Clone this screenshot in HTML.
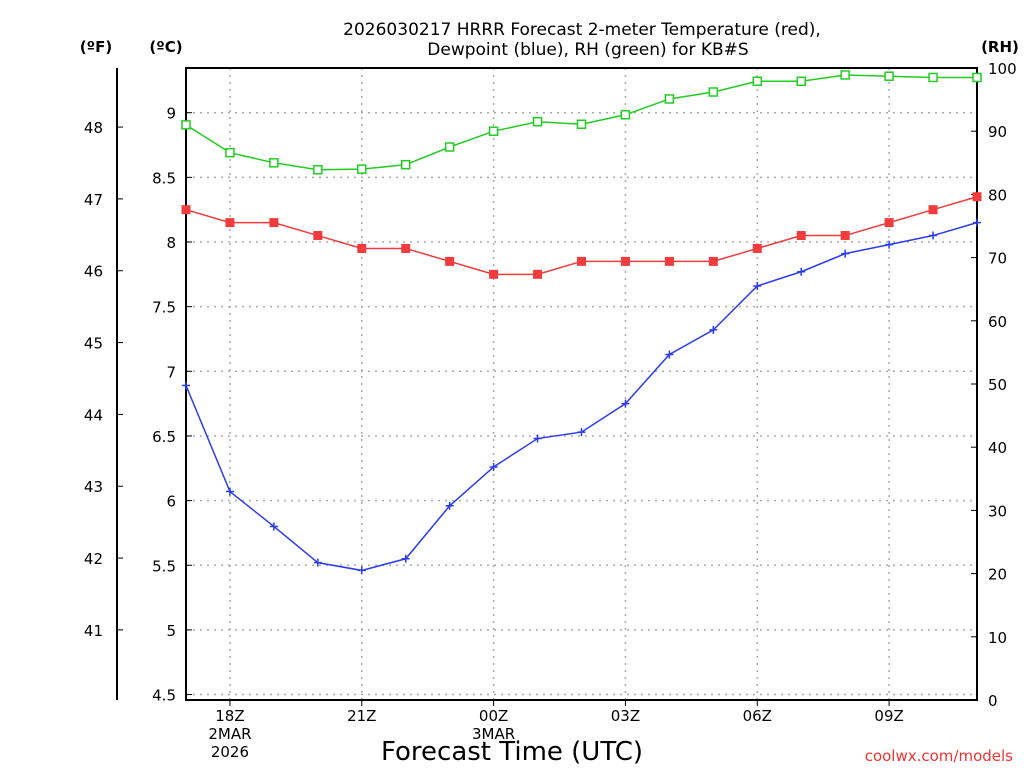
<!DOCTYPE html>
<html><head><meta charset="utf-8"><style>
body{margin:0;background:#fff;}
svg text{font-family:"DejaVu Sans","Liberation Sans",sans-serif;}
</style></head><body>
<svg id="c" width="1024" height="768" xmlns="http://www.w3.org/2000/svg">
<text x="582" y="35" text-anchor="middle" font-size="17">2026030217 HRRR Forecast 2-meter Temperature (red),</text>
<text x="588" y="55" text-anchor="middle" font-size="17">Dewpoint (blue), RH (green) for KB#S</text>
<text x="96" y="52" text-anchor="middle" font-size="15" font-weight="bold">(ºF)</text>
<text x="166" y="52" text-anchor="middle" font-size="15" font-weight="bold">(ºC)</text>
<text x="1000" y="52" text-anchor="middle" font-size="15" font-weight="bold">(RH)</text>
<text x="512" y="760" text-anchor="middle" font-size="26">Forecast Time (UTC)</text>
<text x="1013" y="761" text-anchor="end" font-size="15" fill="#e33">coolwx.com/models</text>
<g id="g"></g>
</svg>
<script>
const hours=[17,18,19,20,21,22,23,24,25,26,27,28,29,30,31,32,33,34,35];
const tempC=[8.25,8.15,8.15,8.05,7.95,7.95,7.85,7.75,7.75,7.85,7.85,7.85,7.85,7.95,8.05,8.05,8.15,8.25,8.35];
const dewC=[6.89,6.07,5.80,5.52,5.46,5.55,5.96,6.26,6.48,6.53,6.75,7.13,7.32,7.66,7.77,7.91,7.98,8.05,8.15];
const rh=[91.0,86.6,85.0,83.9,84.0,84.7,87.5,90.0,91.5,91.1,92.6,95.1,96.2,97.9,97.9,98.9,98.7,98.5,98.5];
const cTicks=[4.5,5,5.5,6,6.5,7,7.5,8,8.5,9];
const fTicks=[41,42,43,44,45,46,47,48];
const rhTicks=[0,10,20,30,40,50,60,70,80,90,100];
const xTickHours=[18,21,24,27,30,33];
const xTickLabels=["18Z","21Z","00Z","03Z","06Z","09Z"];
const L=186,R=977,T=68,B=700;
const xs=h=>L+(h-17)*(R-L)/18;
const yC=c=>242-(c-8)*129.3;
const yF=f=>yC((f-32)/1.8);
const yR=r=>B-r*(B-T)/100;
const NS="http://www.w3.org/2000/svg";
const g=document.getElementById('g');
function mk(t,a,txt){const e=document.createElementNS(NS,t);for(const k in a)e.setAttribute(k,a[k]);if(txt!==undefined)e.textContent=txt;g.appendChild(e);return e;}
// grid
cTicks.forEach(c=>{
 const l=mk('line',{x1:L,x2:R,y1:yC(c),y2:yC(c),stroke:'#aaa','stroke-dasharray':'2,5','stroke-width':1.5});
 
 
 const tk=mk('line',{x1:L,x2:L+6,y1:yC(c),y2:yC(c),stroke:'#000'});
 
 
 const t=mk('text',{x:L-10,y:yC(c)+6,'text-anchor':'end','font-size':15},String(c));
 
 
});
xTickHours.forEach((h,i)=>{
 const l=mk('line',{x1:xs(h),x2:xs(h),y1:T,y2:B,stroke:'#aaa','stroke-dasharray':'2,5','stroke-width':1.5});
 
 
 const tk=mk('line',{x1:xs(h),x2:xs(h),y1:B,y2:B+6,stroke:'#000'});
 
 
 const t=mk('text',{x:xs(h),y:721,'text-anchor':'middle','font-size':15},xTickLabels[i]);
 
 
});
[["2MAR",18,739],["2026",18,757],["3MAR",24,739]].forEach(d=>{
 const t=mk('text',{x:xs(d[1]),y:d[2],'text-anchor':'middle','font-size':15},d[0]);
 
 
});
fTicks.forEach(f=>{
 const tk=mk('line',{x1:117,x2:123,y1:yF(f),y2:yF(f),stroke:'#000'});
 
 
 const t=mk('text',{x:103,y:yF(f)+6,'text-anchor':'end','font-size':15},String(f));
 
 
});
rhTicks.forEach(r=>{
 const tk=mk('line',{x1:R-6,x2:R,y1:yR(r),y2:yR(r),stroke:'#000'});
 
 
 const t=mk('text',{x:988,y:yR(r)+6,'font-size':15},String(r));
 
 
});
const fa=mk('line',{x1:117,x2:117,y1:T,y2:B,stroke:'#000','stroke-width':2});


const fr=mk('rect',{x:L,y:T,width:R-L,height:B-T,fill:'none',stroke:'#000','stroke-width':2});


function series(vals,yf,color,name){
 const pl=mk('polyline',{points:vals.map((v,i)=>xs(hours[i])+','+yf(v)).join(' '),fill:'none',stroke:color,'stroke-width':1.5});
 
 
 vals.forEach((v,i)=>{
  const x=xs(hours[i]),y=yf(v);let m;
  if(name==='temperature')m=mk('rect',{x:x-4.5,y:y-4.5,width:9,height:9,fill:color});
  else if(name==='rh')m=mk('rect',{x:x-4,y:y-4,width:8,height:8,fill:'#fff',stroke:color,'stroke-width':1.5});
  else m=mk('path',{d:`M${x-4},${y}H${x+4}M${x},${y-4}V${y+4}`,stroke:color,'stroke-width':1.5});
  
  
 });
}
series(rh,yR,'#22cc22','rh');
series(tempC,yC,'#f03c3c','temperature');
series(dewC,yC,'#2a3cf0','dewpoint');
</script>
</body></html>
